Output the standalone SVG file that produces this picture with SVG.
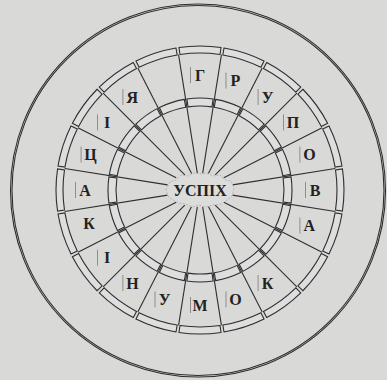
<svg xmlns="http://www.w3.org/2000/svg" xmlns:xlink="http://www.w3.org/1999/xlink" width="387" height="380" viewBox="0 0 387 380">
<style>
.ln{stroke:#2e2e2e;stroke-width:1.1;fill:none}
.band{stroke:#2e2e2e;stroke-width:1.1;fill:#dedede}
.lt{font-family:"Liberation Serif","Times New Roman",serif;font-weight:bold;font-size:16px;fill:#222;text-anchor:middle}
.bar{stroke:#7a7a7a;stroke-width:0.8}
</style>
<defs>
<path id="segI" d="M 291.06 176.88 A 92 92 0 0 1 291.06 203.12 L 283.14 201.98 A 84 84 0 0 0 283.14 178.02 Z"/>
<path id="segO" d="M 342.45 168.96 A 144 144 0 0 1 342.45 211.04 L 335.53 209.99 A 137 137 0 0 0 335.53 169.99 Z"/>
</defs>
<rect width="387" height="380" fill="#d9d9d8"/>
<g id="outer-circle">
<ellipse cx="198" cy="190.5" rx="187.5" ry="186.5" class="ln" stroke-width="1.2"/>
<ellipse cx="198" cy="190.5" rx="186" ry="185" class="ln" stroke-width="0.9"/>
</g>
<g id="outer-band" class="band">
<use href="#segO" transform="rotate(-90 200 190)"/>
<use href="#segO" transform="rotate(-72 200 190)"/>
<use href="#segO" transform="rotate(-54 200 190)"/>
<use href="#segO" transform="rotate(-36 200 190)"/>
<use href="#segO" transform="rotate(-18 200 190)"/>
<use href="#segO" transform="rotate(0 200 190)"/>
<use href="#segO" transform="rotate(18 200 190)"/>
<use href="#segO" transform="rotate(36 200 190)"/>
<use href="#segO" transform="rotate(54 200 190)"/>
<use href="#segO" transform="rotate(72 200 190)"/>
<use href="#segO" transform="rotate(90 200 190)"/>
<use href="#segO" transform="rotate(108 200 190)"/>
<use href="#segO" transform="rotate(126 200 190)"/>
<use href="#segO" transform="rotate(144 200 190)"/>
<use href="#segO" transform="rotate(162 200 190)"/>
<use href="#segO" transform="rotate(180 200 190)"/>
<use href="#segO" transform="rotate(198 200 190)"/>
<use href="#segO" transform="rotate(216 200 190)"/>
<use href="#segO" transform="rotate(234 200 190)"/>
<use href="#segO" transform="rotate(252 200 190)"/>
</g>
<g id="inner-band" class="band">
<use href="#segI" transform="rotate(-90 200 190)"/>
<use href="#segI" transform="rotate(-72 200 190)"/>
<use href="#segI" transform="rotate(-54 200 190)"/>
<use href="#segI" transform="rotate(-36 200 190)"/>
<use href="#segI" transform="rotate(-18 200 190)"/>
<use href="#segI" transform="rotate(0 200 190)"/>
<use href="#segI" transform="rotate(18 200 190)"/>
<use href="#segI" transform="rotate(36 200 190)"/>
<use href="#segI" transform="rotate(54 200 190)"/>
<use href="#segI" transform="rotate(72 200 190)"/>
<use href="#segI" transform="rotate(90 200 190)"/>
<use href="#segI" transform="rotate(108 200 190)"/>
<use href="#segI" transform="rotate(126 200 190)"/>
<use href="#segI" transform="rotate(144 200 190)"/>
<use href="#segI" transform="rotate(162 200 190)"/>
<use href="#segI" transform="rotate(180 200 190)"/>
<use href="#segI" transform="rotate(198 200 190)"/>
<use href="#segI" transform="rotate(216 200 190)"/>
<use href="#segI" transform="rotate(234 200 190)"/>
<use href="#segI" transform="rotate(252 200 190)"/>
</g>
<g id="connectors" class="ln">
<line x1="217.16" y1="190" x2="337" y2="190" transform="rotate(-99 200 190)"/>
<line x1="217.16" y1="190" x2="337" y2="190" transform="rotate(-81 200 190)"/>
<line x1="218.49" y1="190" x2="337" y2="190" transform="rotate(-63 200 190)"/>
<line x1="221.50" y1="190" x2="337" y2="190" transform="rotate(-45 200 190)"/>
<line x1="226.73" y1="190" x2="337" y2="190" transform="rotate(-27 200 190)"/>
<line x1="232.82" y1="190" x2="337" y2="190" transform="rotate(-9 200 190)"/>
<line x1="232.82" y1="190" x2="337" y2="190" transform="rotate(9 200 190)"/>
<line x1="226.73" y1="190" x2="337" y2="190" transform="rotate(27 200 190)"/>
<line x1="221.50" y1="190" x2="337" y2="190" transform="rotate(45 200 190)"/>
<line x1="218.49" y1="190" x2="337" y2="190" transform="rotate(63 200 190)"/>
<line x1="217.16" y1="190" x2="337" y2="190" transform="rotate(81 200 190)"/>
<line x1="217.16" y1="190" x2="337" y2="190" transform="rotate(99 200 190)"/>
<line x1="218.49" y1="190" x2="337" y2="190" transform="rotate(117 200 190)"/>
<line x1="221.50" y1="190" x2="337" y2="190" transform="rotate(135 200 190)"/>
<line x1="226.73" y1="190" x2="337" y2="190" transform="rotate(153 200 190)"/>
<line x1="232.82" y1="190" x2="337" y2="190" transform="rotate(171 200 190)"/>
<line x1="232.82" y1="190" x2="337" y2="190" transform="rotate(189 200 190)"/>
<line x1="226.73" y1="190" x2="337" y2="190" transform="rotate(207 200 190)"/>
<line x1="221.50" y1="190" x2="337" y2="190" transform="rotate(225 200 190)"/>
<line x1="218.49" y1="190" x2="337" y2="190" transform="rotate(243 200 190)"/>
</g>
<g id="center">
<path d="M166 190 L170 182 L176 180 L181 175 L188 176 L194 173 L201 174 L207 173 L213 176 L220 175 L225 180 L231 181 L234 188 L232 196 L227 200 L221 204 L213 205 L206 207 L199 205 L192 207 L186 204 L178 203 L172 199 L168 196 Z" fill="#dcdcdb" stroke="#9a9a9a" stroke-width="0.6" stroke-dasharray="2 1.5"/>
<text x="200" y="195.5" class="lt">УСПІХ</text>
</g>
<g id="cell-G"><line class="bar" x1="190.5" y1="67" x2="190.5" y2="83"/><text x="200" y="80.5" class="lt">Г</text></g>
<g id="cell-R"><line class="bar" x1="226" y1="72.6" x2="226" y2="88.6"/><text x="235.5" y="86.1" class="lt">Р</text></g>
<g id="cell-U1"><line class="bar" x1="258.1" y1="89" x2="258.1" y2="105"/><text x="267.6" y="102.5" class="lt">У</text></g>
<g id="cell-P"><line class="bar" x1="283.5" y1="114.4" x2="283.5" y2="130.4"/><text x="293" y="127.9" class="lt">П</text></g>
<g id="cell-O1"><line class="bar" x1="299.9" y1="146.5" x2="299.9" y2="162.5"/><text x="309.4" y="160" class="lt">О</text></g>
<g id="cell-V"><line class="bar" x1="305.5" y1="182" x2="305.5" y2="198"/><text x="315" y="195.5" class="lt">В</text></g>
<g id="cell-A1"><line class="bar" x1="299.9" y1="217.5" x2="299.9" y2="233.5"/><text x="309.4" y="231" class="lt">А</text></g>
<g id="cell-empty1"/>
<g id="cell-K1"><line class="bar" x1="258.1" y1="275" x2="258.1" y2="291"/><text x="267.6" y="288.5" class="lt">К</text></g>
<g id="cell-O2"><line class="bar" x1="226" y1="291.4" x2="226" y2="307.4"/><text x="235.5" y="304.9" class="lt">О</text></g>
<g id="cell-M"><line class="bar" x1="190.5" y1="297" x2="190.5" y2="313"/><text x="200" y="310.5" class="lt">М</text></g>
<g id="cell-U2"><line class="bar" x1="155" y1="291.4" x2="155" y2="307.4"/><text x="164.5" y="304.9" class="lt">У</text></g>
<g id="cell-N"><line class="bar" x1="122.9" y1="275" x2="122.9" y2="291"/><text x="132.4" y="288.5" class="lt">Н</text></g>
<g id="cell-I1"><line class="bar" x1="97.5" y1="249.6" x2="97.5" y2="265.6"/><text x="107" y="263.1" class="lt">І</text></g>
<g id="cell-K2"><text x="89" y="229" class="lt">К</text></g>
<g id="cell-A2"><line class="bar" x1="75.5" y1="182" x2="75.5" y2="198"/><text x="85" y="195.5" class="lt">А</text></g>
<g id="cell-C"><line class="bar" x1="81.1" y1="146.5" x2="81.1" y2="162.5"/><text x="90.6" y="160" class="lt">Ц</text></g>
<g id="cell-I2"><line class="bar" x1="97.5" y1="114.4" x2="97.5" y2="130.4"/><text x="107" y="127.9" class="lt">І</text></g>
<g id="cell-Ya"><line class="bar" x1="122.9" y1="89" x2="122.9" y2="105"/><text x="132.4" y="102.5" class="lt">Я</text></g>
<g id="cell-empty2"/>
</svg>
